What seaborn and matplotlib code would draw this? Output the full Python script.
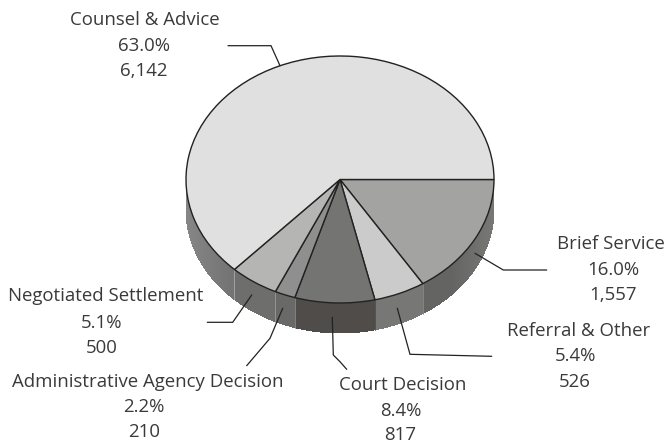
import numpy as np
import matplotlib
matplotlib.use("Agg")
import matplotlib.pyplot as plt
from matplotlib.colors import to_rgb
import seaborn as sns

categories = ["Brief Service", "Referral & Other", "Court Decision",
              "Administrative Agency Decision", "Negotiated Settlement", "Counsel & Advice"]
counts = [1557, 526, 817, 210, 500, 6142]
percents = [16.0, 5.4, 8.4, 2.2, 5.1, 63.0]
top_colors = ["#a3a3a1", "#cbcbcb", "#747472", "#8f8f8f", "#b5b5b3", "#e0e0e0"]
wall_colors = ["#646462", "#777776", "#504c4a", "#696968", "#6e6e6d", "#747474"]
seam_colors = ["#646462", "#8a8a8a", "#504c4a", "#8a8a8a", "#9a9a9a", "#a8a8a8"]

W, H = 666, 440
CX, CY, RX, RY, DEPTH = 340, 179.5, 154, 123.5, 30

sns.set_theme(style="white")
plt.rcParams["font.family"] = ["Open Sans", "DejaVu Sans"]
ink = "#3a3a3a"

fig = plt.figure(figsize=(W / 100, H / 100), dpi=100)
ax = fig.add_axes([0, 0, 1, 1])
palette = sns.color_palette(top_colors)

# wall of the pie, following the slices, lighter where it turns away at the sides
total = sum(counts)
start = 0.0
depth_u = DEPTH / RY
for value, col, seam in zip(counts, wall_colors, seam_colors):
    end = start + 360.0 * value / total
    a, b = start, min(end, 180.0)
    if a < b:
        edges = np.linspace(a, b, max(3, int((b - a) * 1.5)))
        base = np.array(to_rgb(col))
        for t0, t1 in zip(edges[:-1], edges[1:]):
            th = np.radians(np.linspace(t0, t1, 4))
            xs = np.cos(th)
            ys = -np.sin(th)
            f = 0.13 * max(0.0, (abs(xs.mean()) - 0.72) / 0.28)
            shade = base + (1 - base) * f
            ax.fill(np.r_[xs, xs[::-1]], np.r_[ys, ys[::-1] - depth_u],
                    color=tuple(shade), lw=0, antialiased=False, zorder=1)
        if a > 0:
            xa = np.cos(np.radians(a))
            ya = -np.sin(np.radians(a))
            ax.plot([xa, xa], [ya, ya - depth_u], color=seam, lw=0.6, zorder=1.5)
    start = end

ax.pie(counts, colors=palette, startangle=0, counterclock=False, radius=1,
       wedgeprops=dict(edgecolor="#222222", linewidth=1.0, zorder=2))
ax.set_aspect("auto")
ax.set_xlim(-CX / RX, (W - CX) / RX)
ax.set_ylim((CY - H) / RY, CY / RY)
ax.axis("off")

ov = fig.add_axes([0, 0, 1, 1], facecolor="none")
ov.set_xlim(0, W)
ov.set_ylim(H, 0)
ov.axis("off")

leaders = {
    "Brief Service": [(475, 253.3), (503.3, 270), (546.7, 270)],
    "Referral & Other": [(397.3, 308.3), (410, 354.3), (491.7, 356.3)],
    "Court Decision": [(332.3, 317.3), (333.3, 355), (340, 361.7), (346.7, 369.3)],
    "Administrative Agency Decision": [(282.7, 308.3), (270, 338.3), (246.7, 365.7)],
    "Negotiated Settlement": [(251.7, 295), (232.7, 322.3), (207.3, 322.3)],
    "Counsel & Advice": [(280, 65.7), (271, 45.7), (228, 45.7)],
}
label_pos = {
    "Brief Service": [(611, 244.3), (613, 270), (613, 295)],
    "Referral & Other": [(579, 331), (575, 355.7), (575, 381.7)],
    "Court Decision": [(403, 385), (401, 410.7), (400, 435)],
    "Administrative Agency Decision": [(148, 381.7), (144, 406.7), (144, 431.7)],
    "Negotiated Settlement": [(106, 296), (102, 322.7), (102, 347.7)],
    "Counsel & Advice": [(145, 20), (144, 45.7), (144, 70.7)],
}

for name, pct, n in zip(categories, percents, counts):
    pts = np.array(leaders[name])
    ov.plot(pts[:, 0], pts[:, 1], color="#222222", lw=0.9, solid_joinstyle="miter")
    lines = [name, f"{pct:.1f}%", f"{n:,}"]
    for txt, (x, y) in zip(lines, label_pos[name]):
        ov.text(x, y, txt, ha="center", va="center", fontsize=13.4, color=ink)

fig.savefig("out.png", dpi=100)
